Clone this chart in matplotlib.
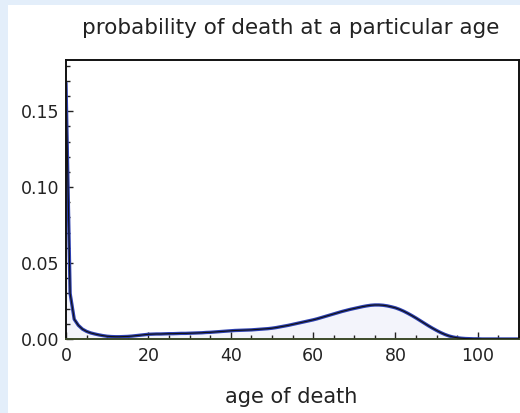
import matplotlib
matplotlib.use("Agg")
import matplotlib.pyplot as plt
from matplotlib.patches import Rectangle
from matplotlib.ticker import MultipleLocator

ages = list(range(0, 111))
prob = [
    0.168, 0.030, 0.013, 0.0090, 0.0065, 0.0050, 0.0040, 0.0033, 0.0027, 0.0022,
    0.0018, 0.0016, 0.0015, 0.0015, 0.0016, 0.0017, 0.0019, 0.0022, 0.0025, 0.0028,
    0.0031, 0.0032, 0.0033, 0.0033, 0.0034, 0.0035, 0.0035, 0.0036, 0.0037, 0.0037,
    0.0038, 0.0039, 0.0040, 0.0041, 0.0043, 0.0044, 0.0046, 0.0048, 0.0050, 0.0052,
    0.0054, 0.0056, 0.0057, 0.0058, 0.0059, 0.0060, 0.0062, 0.0064, 0.0066, 0.0068,
    0.0071, 0.0075, 0.0080, 0.0085, 0.0090, 0.0096, 0.0102, 0.0108, 0.0114, 0.0120,
    0.0126, 0.0133, 0.0141, 0.0149, 0.0157, 0.0165, 0.0173, 0.0181, 0.0188, 0.0195,
    0.0201, 0.0207, 0.0213, 0.0218, 0.0222, 0.0224, 0.0224, 0.0222, 0.0218, 0.0212,
    0.0205, 0.0195, 0.0183, 0.0169, 0.0154, 0.0138, 0.0121, 0.0104, 0.0087, 0.0071,
    0.0056, 0.0042, 0.0030, 0.0020, 0.0013, 0.0008, 0.0005, 0.0003, 0.0002, 0.0001,
    0.0001, 0.0000, 0.0000, 0.0000, 0.0000, 0.0000, 0.0000, 0.0000, 0.0000, 0.0000,
    0.0000,
]
x_ticks = [0, 20, 40, 60, 80, 100]
y_ticks = [0.00, 0.05, 0.10, 0.15]
title = "probability of death at a particular age"
xlabel = "age of death"

fig = plt.figure(figsize=(5.2, 4.13), dpi=100, facecolor="#e3eefa")
fig.patches.append(Rectangle((8 / 520, 0), 1, (413 - 5) / 413, transform=fig.transFigure,
                             facecolor="white", edgecolor="none", zorder=-10))
ax = fig.add_axes([66 / 520, (413 - 339) / 413, (519 - 66) / 520, (339 - 59.5) / 413])
ax.set_zorder(5)
ax.fill_between(ages, prob, 0, color="#f3f4fb", zorder=1)
ax.plot(ages, prob, color="#2c3fb0", lw=2.4, zorder=2, solid_joinstyle="round")
ax.plot(ages, prob, color="#111111", lw=0.8, zorder=3)

ax.set_xlim(0, 110)
ax.set_ylim(0, 0.184)
ax.set_xticks(x_ticks)
ax.set_yticks(y_ticks)
ax.set_yticklabels([f"{v:.2f}" for v in y_ticks])
ax.xaxis.set_minor_locator(MultipleLocator(5))
ax.yaxis.set_minor_locator(MultipleLocator(0.01))
ax.tick_params(which="both", direction="in", top=False, right=False, labelsize=12.5,
               colors="#222222", width=1.0)
ax.tick_params(which="major", length=5)
ax.tick_params(which="minor", length=3)
ax.tick_params(axis="x", which="major", pad=6)
ax.tick_params(axis="y", which="major", pad=5)
for s in ax.spines.values():
    s.set_linewidth(1.4)
    s.set_color("#111111")
ax.spines["bottom"].set_color("#3d4a2a")

fig.text(291 / 520, 1 - 28 / 413, title, ha="center", va="center", fontsize=15.5, color="#222222")
fig.text(291 / 520, 1 - 397 / 413, xlabel, ha="center", va="center", fontsize=15, color="#222222")

fig.savefig("out.png", dpi=100, facecolor=fig.get_facecolor())
